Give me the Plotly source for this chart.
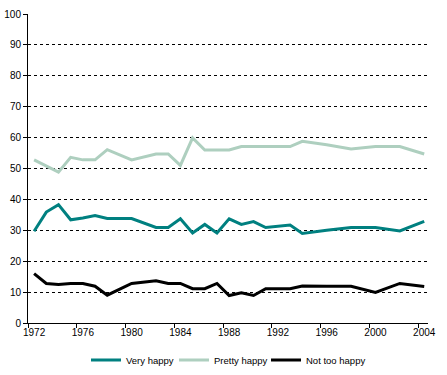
import plotly.graph_objects as go

years = [1972, 1973, 1974, 1975, 1976, 1977, 1978, 1980, 1982, 1983, 1984, 1985,
         1986, 1987, 1988, 1989, 1990, 1991, 1993, 1994, 1996, 1998, 2000, 2002, 2004]
very_happy = [29.7, 35.9, 38.3, 33.4, 34.0, 34.8, 33.8, 33.8, 30.9, 30.9, 33.7, 29.1,
              31.9, 29.1, 33.7, 31.9, 32.8, 30.9, 31.7, 29.0, 30.0, 30.9, 30.9, 29.8, 32.9]
pretty_happy = [52.8, 50.8, 48.8, 53.6, 52.8, 52.8, 56.1, 52.8, 54.7, 54.7, 51.0, 59.9,
                56.0, 56.0, 56.0, 57.1, 57.1, 57.1, 57.1, 58.8, 57.7, 56.3, 57.1, 57.1, 54.7]
not_too_happy = [16.0, 12.8, 12.5, 12.8, 12.8, 11.9, 9.0, 12.8, 13.7, 12.8, 12.8, 11.1,
                 11.1, 12.8, 8.9, 9.8, 8.9, 11.1, 11.1, 12.0, 11.9, 11.9, 9.9, 12.8, 11.8]
x_ticks = [1972, 1976, 1980, 1984, 1988, 1992, 1996, 2000, 2004]
y_ticks = list(range(0, 101, 10))

FONT = "Liberation Sans, Arial, sans-serif"

fig = go.Figure()
fig.add_trace(go.Scatter(x=years, y=very_happy, mode="lines", name="Very happy",
                         line=dict(color="#008080", width=3), legend="legend"))
fig.add_trace(go.Scatter(x=years, y=pretty_happy, mode="lines", name="Pretty happy",
                         line=dict(color="#aecfbf", width=3), legend="legend2"))
fig.add_trace(go.Scatter(x=years, y=not_too_happy, mode="lines", name="Not too happy",
                         line=dict(color="#000000", width=3), legend="legend3"))

def leg(x):
    return dict(orientation="h", xref="container", yref="container",
                x=x, xanchor="left", y=0.04, yanchor="middle",
                itemwidth=30, font=dict(family=FONT, size=9.5, color="black"),
                bgcolor="rgba(0,0,0,0)", borderwidth=0)

fig.update_layout(
    width=447, height=375,
    margin=dict(l=28, r=19, t=14, b=52),
    paper_bgcolor="white", plot_bgcolor="white",
    font=dict(family=FONT, size=10, color="black"),
    showlegend=True,
    legend=leg(0.1924), legend2=leg(0.3893), legend3=leg(0.5951),
    xaxis=dict(range=[1971.5, 2004.31], tickvals=x_ticks, ticktext=[str(v) for v in x_ticks],
               ticks="", showgrid=False, zeroline=False, automargin=False,
               showline=True, linecolor="black", linewidth=1,
               minor=dict(tick0=1971.5, dtick=4, ticks="outside", ticklen=4,
                          tickcolor="black", showgrid=False),
               tickfont=dict(family=FONT, size=10, color="black")),
    yaxis=dict(range=[0, 100], tickvals=y_ticks, ticks="outside", ticklen=4,
               tickcolor="black", showgrid=True, gridcolor="black", gridwidth=1,
               griddash="3px,3px", zeroline=False, automargin=False,
               showline=True, linecolor="black", linewidth=1,
               tickfont=dict(family=FONT, size=10, color="black")),
)

fig.write_html("out.html", config={"displayModeBar": False},
               post_script="document.body.style.margin='0';")
